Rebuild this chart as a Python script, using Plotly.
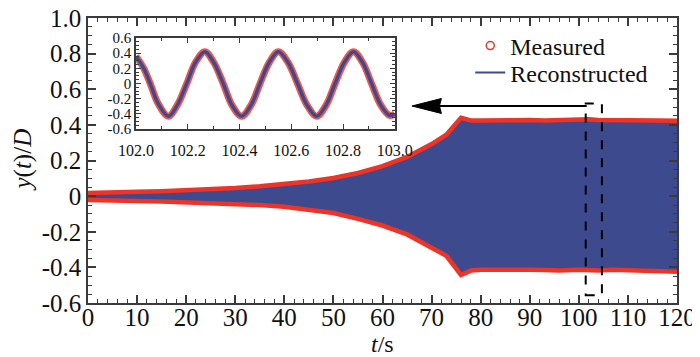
import plotly.graph_objects as go

# ---------------- data ----------------
# main panel: envelope of the (dense) oscillation, centre of the red "measured" band
env_t = [0, 2, 5, 10, 15, 20, 25, 30, 35, 40, 45, 50, 55, 60, 65, 70, 73, 76,
         77, 78, 80, 83, 86, 90, 93, 96, 100, 102, 104, 107, 110, 113, 116, 120]
env_upper = [0.018, 0.018, 0.020, 0.024, 0.028, 0.032, 0.038, 0.045, 0.055, 0.067,
             0.082, 0.102, 0.130, 0.168, 0.220, 0.292, 0.345, 0.440,
             0.432, 0.425, 0.424, 0.426, 0.423, 0.427, 0.425, 0.428, 0.426, 0.432,
             0.427, 0.425, 0.426, 0.424, 0.425, 0.423]
env_lower = [-0.022, -0.022, -0.024, -0.027, -0.030, -0.034, -0.039, -0.045, -0.050, -0.060,
             -0.075, -0.095, -0.128, -0.165, -0.215, -0.290, -0.335, -0.443,
             -0.430, -0.418, -0.413, -0.412, -0.414, -0.413, -0.415, -0.418, -0.413, -0.416,
             -0.418, -0.414, -0.416, -0.418, -0.420, -0.424]

# inset: 102-103 s detail
ins_t = [102.000, 102.030, 102.055, 102.085, 102.125, 102.160, 102.196, 102.230, 102.266,
         102.300, 102.337, 102.370, 102.408, 102.445, 102.479, 102.515, 102.550, 102.587,
         102.624, 102.660, 102.698, 102.735, 102.769, 102.805, 102.840, 102.875, 102.910,
         102.945, 102.980, 103.000]
ins_y = [0.36, 0.20, 0.00, -0.26, -0.43, -0.28, 0.00, 0.28, 0.42,
         0.28, 0.00, -0.28, -0.43, -0.28, 0.00, 0.28, 0.42, 0.28,
         0.00, -0.28, -0.43, -0.28, 0.00, 0.28, 0.42, 0.28, 0.00,
         -0.28, -0.42, -0.40]

x_tickvals = [0, 10, 20, 30, 40, 50, 60, 70, 80, 90, 100, 110, 120]
x_ticktext = ["0", "10", "20", "30", "40", "50", "60", "70", "80", "90", "100", "110", "120"]
y_tickvals = [1.0, 0.8, 0.6, 0.4, 0.2, 0.0, -0.2, -0.4, -0.6]
y_ticktext = ["1.0", "0.8", "0.6", "0.4", "0.2", "0", "-0.2", "-0.4", "-0.6"]
ix_tickvals = [102.0, 102.2, 102.4, 102.6, 102.8, 103.0]
ix_ticktext = ["102.0", "102.2", "102.4", "102.6", "102.8", "103.0"]
iy_tickvals = [0.6, 0.4, 0.2, 0.0, -0.2, -0.4, -0.6]
iy_ticktext = ["0.6", "0.4", "0.2", "0", "-0.2", "-0.4", "-0.6"]

# zoom window marker and arrow (annotation geometry)
box_x = [101.4, 104.7]
box_y = [-0.556, 0.52]
arrow_y = 0.506
arrow_tip_x = 66.0
arrow_head_back_x = 72.0
arrow_tail_x = 101.6

RED = "#ee3427"
BLUE = "#3d4a8e"
AX = "#3a3a3a"
FONT = "Liberation Serif, Times New Roman, serif"

fig = go.Figure()

# main panel: reconstructed (blue) fill, measured (red) band on the extremes
fig.add_trace(go.Scatter(x=env_t, y=env_upper, mode="lines", line=dict(width=0, color=BLUE),
                         showlegend=False, hoverinfo="skip"))
fig.add_trace(go.Scatter(x=env_t, y=env_lower, mode="lines", line=dict(width=0, color=BLUE),
                         fill="tonexty", fillcolor=BLUE, showlegend=False, hoverinfo="skip"))
fig.add_trace(go.Scatter(x=env_t, y=env_upper, mode="lines", line=dict(width=4.5, color=RED),
                         showlegend=False, hoverinfo="skip"))
fig.add_trace(go.Scatter(x=env_t, y=env_lower, mode="lines", line=dict(width=4.5, color=RED),
                         showlegend=False, hoverinfo="skip"))

# inset
fig.add_trace(go.Scatter(x=ins_t, y=ins_y, mode="lines", xaxis="x2", yaxis="y2",
                         line=dict(width=7, color="#f0574a", shape="spline", smoothing=1.0),
                         showlegend=False, hoverinfo="skip"))
fig.add_trace(go.Scatter(x=ins_t, y=ins_y, mode="lines", xaxis="x2", yaxis="y2",
                         line=dict(width=3.5, color=BLUE, shape="spline", smoothing=1.0),
                         showlegend=False, hoverinfo="skip"))

# legend entries (two legends so each row sits where the reference has it)
fig.add_trace(go.Scatter(x=[None], y=[None], mode="markers", name="Measured", legend="legend",
                         marker=dict(symbol="circle-open", size=8, color=RED, line=dict(width=1.5))))
fig.add_trace(go.Scatter(x=[None], y=[None], mode="lines", name="Reconstructed", legend="legend2",
                         line=dict(width=2, color=BLUE)))

axis_common = dict(showline=True, linecolor=AX, linewidth=1.5, mirror="allticks",
                   ticks="inside", tickcolor=AX, showgrid=False, zeroline=False,
                   automargin=False, ticklabeloverflow="allow",
                   tickfont=dict(family=FONT, size=25, color="#111"))

legend_common = dict(xanchor="left", yanchor="middle", bgcolor="rgba(0,0,0,0)",
                     font=dict(family=FONT, size=24, color="#111"), itemwidth=30)

# the page body adds an 8 px offset, so the figure is 8 px smaller on each axis
fig.update_layout(
    width=692, height=349,
    margin=dict(l=80, r=23, t=10, b=54, autoexpand=False),
    paper_bgcolor="white", plot_bgcolor="white",
    font=dict(family=FONT, color="#111"),
    xaxis=dict(range=[0, 120], tickvals=x_tickvals, ticktext=x_ticktext,
               ticklen=8, tickwidth=1.5, ticklabelstandoff=-9,
               minor=dict(dtick=2, ticklen=4, ticks="inside", tickcolor=AX, tickwidth=1),
               **axis_common),
    yaxis=dict(range=[-0.6, 1.0], tickvals=y_tickvals, ticktext=y_ticktext,
               ticklen=8, tickwidth=1.5,
               minor=dict(dtick=0.05, tick0=0, ticklen=4, ticks="inside", tickcolor=AX, tickwidth=1),
               **axis_common),
    xaxis2=dict(domain=[0.0815, 0.521], anchor="y2", range=[102.0, 103.0],
                tickvals=ix_tickvals, ticktext=ix_ticktext, ticklen=5, tickwidth=1,
                ticklabelstandoff=6, automargin=False, ticklabeloverflow="allow",
                minor=dict(dtick=0.1, tick0=102, ticklen=3, ticks="inside", tickcolor=AX),
                showline=True, linecolor=AX, linewidth=1.5, mirror="allticks",
                ticks="inside", tickcolor=AX, showgrid=False, zeroline=False,
                tickfont=dict(family=FONT, size=16, color="#111")),
    yaxis2=dict(domain=[0.610, 0.930], anchor="x2", range=[-0.6, 0.6],
                tickvals=iy_tickvals, ticktext=iy_ticktext, ticklen=5, tickwidth=1,
                automargin=False, ticklabeloverflow="allow",
                minor=dict(dtick=0.05, tick0=0, ticklen=3, ticks="inside", tickcolor=AX),
                showline=True, linecolor=AX, linewidth=1.5, mirror="allticks",
                ticks="inside", tickcolor=AX, showgrid=False, zeroline=False,
                tickfont=dict(family=FONT, size=15, color="#111")),
    legend=dict(x=0.649, y=0.902, **legend_common),
    legend2=dict(x=0.649, y=0.807, **legend_common),
    showlegend=True,
)

# zoom window box
fig.add_shape(type="rect", xref="x", yref="y", x0=box_x[0], x1=box_x[1], y0=box_y[0], y1=box_y[1],
              line=dict(color="black", width=2, dash="dash"))
# arrow shaft and head
fig.add_shape(type="line", xref="x", yref="y", x0=arrow_head_back_x - 0.5, x1=arrow_tail_x,
              y0=arrow_y, y1=arrow_y, line=dict(color="black", width=2))
fig.add_shape(type="path", xref="x", yref="y",
              path=(f"M {arrow_tip_x},{arrow_y} L {arrow_head_back_x},{arrow_y + 0.042} "
                    f"L {arrow_head_back_x - 0.4},{arrow_y} L {arrow_head_back_x},{arrow_y - 0.042} Z"),
              fillcolor="black", line=dict(color="black", width=1))

# axis titles
fig.add_annotation(text="<i>y</i>(<i>t</i>)/<i>D</i>", xref="paper", yref="paper",
                   x=-0.112, y=0.5, xanchor="center", yanchor="middle", textangle=-90,
                   showarrow=False, font=dict(family=FONT, size=25, color="#111"))
fig.add_annotation(text="<i>t</i>/s", xref="paper", yref="paper",
                   x=0.5, y=-0.145, xanchor="center", yanchor="middle",
                   showarrow=False, font=dict(family=FONT, size=24, color="#111"))

fig.write_html("out.html")
